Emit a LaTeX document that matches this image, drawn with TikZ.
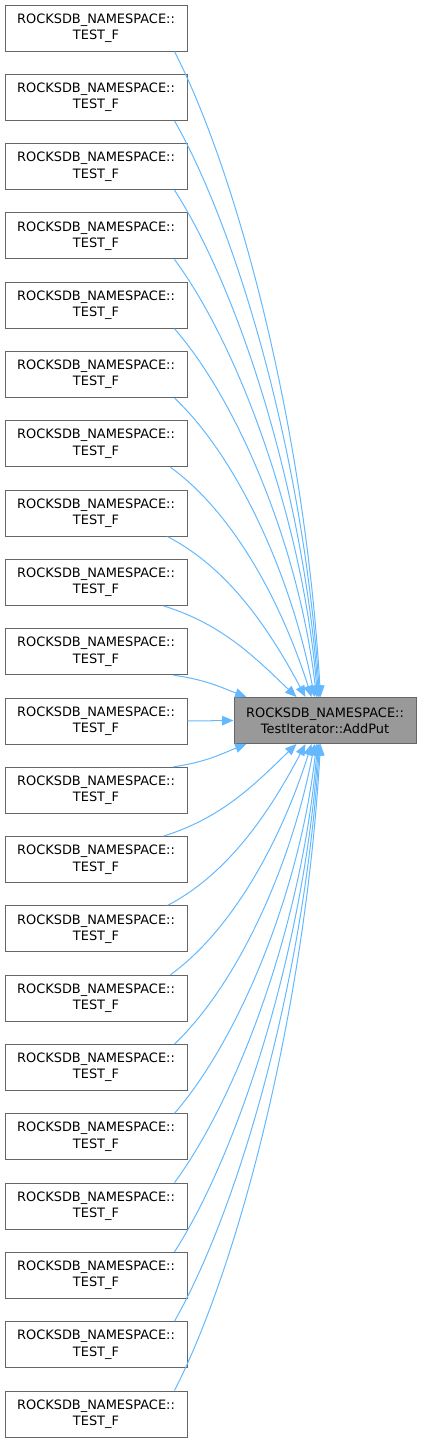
\documentclass[tikz,border=0pt]{standalone}
\usepackage{fontspec}
\setmainfont{DejaVu Sans}
\usepackage{tikz}
\usetikzlibrary{positioning, arrows.meta}
\definecolor{edgeblue}{HTML}{63B8FF}
\definecolor{boxline}{HTML}{666666}
\definecolor{boxgray}{HTML}{999999}

\begin{document}
\begin{tikzpicture}[
  x=0.75pt, y=-0.75pt,
  caller/.style={rectangle, draw=boxline, line width=0.75pt, fill=white, minimum width=136.5pt, minimum height=34.5pt, align=center, inner sep=0pt, font=\fontsize{9.7pt}{12.2pt}\selectfont},
  callee/.style={caller, fill=boxgray},
  link/.style={-{Triangle[length=8.5pt, width=7pt]}, line width=0.75pt, edgeblue}
]
\useasboundingbox (0,0) rectangle (421,1442);

% ===== Callers =====
\foreach \i in {0,...,20}{
  \node[caller] (t\i) at (96, 28+69.3*\i) {ROCKSDB\_NAMESPACE::\\TEST\_F};
}

% ===== Callee =====
\node[callee] (addput) at (325, 720.5) {ROCKSDB\_NAMESPACE::\\TestIterator::AddPut};

% ===== Links from above =====
\foreach \i/\so/\eo in {0/-13/87, 1/-13/86, 2/-13/85, 3/-13/84, 4/-13/83, 5/-13/81, 6/-17/78, 7/-20/72, 8/-24/63, 9/-14/13}{
  \pgfmathsetmacro\dx{(234+\eo)-(187+\so)}
  \pgfmathsetmacro\dy{698-(51+69.3*\i)}
  \pgfmathsetmacro\ax{0.1+0.25*(1-min(\dy,400)/400)}
  \draw[link] ([shift={(\so,0)}]t\i.south east)
    .. controls +({0.45*\dx},{0.2*\dy}) and +({-\ax*\dx},{-0.4*\dy}) .. ([shift={(\eo,0)}]addput.north west);
}

% ===== Straight link =====
\draw[link] (t10.east) -- (addput.west);

% ===== Links from below =====
\foreach \i/\so/\eo in {11/-14/13, 12/-24/63, 13/-20/72, 14/-17/78, 15/-13/81, 16/-13/83, 17/-13/84, 18/-13/85, 19/-13/86, 20/-13/87}{
  \pgfmathsetmacro\dx{(234+\eo)-(187+\so)}
  \pgfmathsetmacro\dy{(5+69.3*\i)-743}
  \pgfmathsetmacro\ax{0.1+0.25*(1-min(\dy,400)/400)}
  \draw[link] ([shift={(\so,0)}]t\i.north east)
    .. controls +({0.45*\dx},{-0.2*\dy}) and +({-\ax*\dx},{0.4*\dy}) .. ([shift={(\eo,0)}]addput.south west);
}

\end{tikzpicture}
\end{document}
